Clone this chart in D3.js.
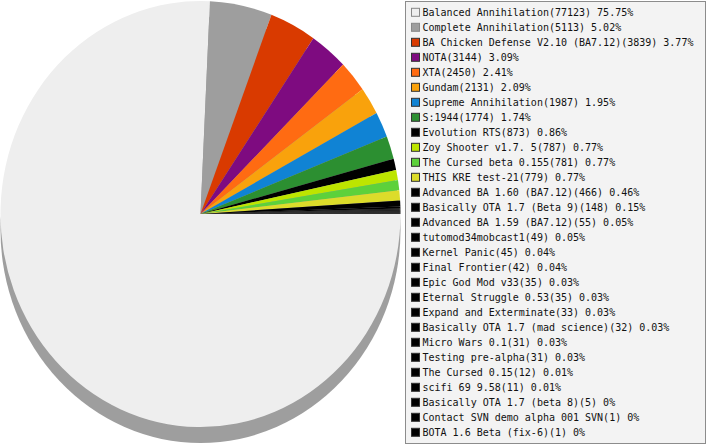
<!DOCTYPE html>
<html><head><meta charset="utf-8">
<script src="https://cdn.jsdelivr.net/npm/d3@7"></script>
<style>html,body{margin:0;padding:0;background:#fff;overflow:hidden}</style>
</head><body>
<svg id="c" width="707" height="445"></svg>
<script>
const names = ["Balanced Annihilation","Complete Annihilation","BA Chicken Defense V2.10 (BA7.12)","NOTA","XTA","Gundam","Supreme Annihilation","S:1944","Evolution RTS","Zoy Shooter v1.7. 5","The Cursed beta 0.155","THIS KRE test-21","Advanced BA 1.60 (BA7.12)","Basically OTA 1.7 (Beta 9)","Advanced BA 1.59 (BA7.12)","tutomod34mobcast1","Kernel Panic","Final Frontier","Epic God Mod v33","Eternal Struggle 0.53","Expand and Exterminate","Basically OTA 1.7 (mad science)","Micro Wars 0.1","Testing pre-alpha","The Cursed 0.15","scifi 69 9.58","Basically OTA 1.7 (beta 8)","Contact SVN demo alpha 001 SVN","BOTA 1.6 Beta (fix-6)"];
const counts = [77123,5113,3839,3144,2450,2131,1987,1774,873,787,781,779,466,148,55,49,45,42,35,35,33,32,31,31,12,11,5,1,1];
const percents = ["75.75%","5.02%","3.77%","3.09%","2.41%","2.09%","1.95%","1.74%","0.86%","0.77%","0.77%","0.77%","0.46%","0.15%","0.05%","0.05%","0.04%","0.04%","0.03%","0.03%","0.03%","0.03%","0.03%","0.03%","0.01%","0.01%","0%","0%","0%"];
const colors = ["#eeeeee","#9e9e9e","#d93a00","#7e0b80","#ff6b12","#f9a20c","#1083d4","#2c8f31","#000000","#bde500","#5dd13b","#dcdc2a","#000000","#000000","#000000","#000000","#000000","#000000","#000000","#000000","#000000","#000000","#000000","#000000","#000000","#000000","#000000","#000000","#000000"];

const svg = d3.select("#c");
const rx = 200, ry = 213, cx = 200.5, cy = 214, depth = 16;

const pie = d3.pie().sort(null).value(d => d).startAngle(Math.PI/2).endAngle(Math.PI/2 + 2*Math.PI);
const arcs = pie(counts);
const arc = d3.arc().innerRadius(0).outerRadius(rx);

// shadow / depth
svg.append("ellipse").attr("cx", cx).attr("cy", cy + depth).attr("rx", rx).attr("ry", ry).attr("fill", "#9e9e9e");

const g = svg.append("g").attr("transform", `translate(${cx},${cy}) scale(1,${ry/rx})`);
g.selectAll("path").data(arcs).join("path")
  .attr("d", arc)
  .attr("fill", (d,i) => colors[i]);

// legend
const lx = 405.5, ly = 1.5;
svg.append("rect").attr("x", lx).attr("y", ly).attr("width", 300).attr("height", 442)
  .attr("fill", "#f3f3f3").attr("stroke", "#8c8c8c");
const rowY = d3.scaleLinear().domain([0, 1]).range([12.3, 27.3]);
const items = svg.append("g").selectAll("g").data(names).join("g")
  .attr("transform", (d,i) => `translate(0,${rowY(i)})`);
items.append("rect").attr("x", 411.5).attr("y", -4).attr("width", 8).attr("height", 8)
  .attr("fill", (d,i) => colors[i]).attr("stroke", (d,i) => i < 2 ? "#888" : "#333");
items.append("text").attr("x", 422.5).attr("y", 4)
  .attr("font-family", "DejaVu Sans Mono, monospace").attr("font-size", "10px").attr("fill", "#111")
  .text((d,i) => `${d}(${counts[i]}) ${percents[i]}`);
</script>
</body></html>
